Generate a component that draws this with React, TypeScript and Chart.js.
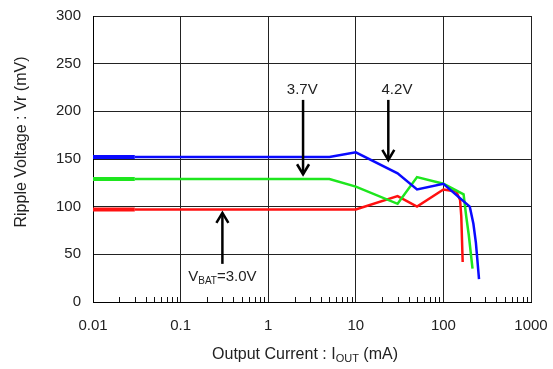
import React, { useEffect, useRef } from "react";
import { Chart, registerables } from "chart.js";

Chart.register(...registerables);

// Output current (mA) and ripple voltage (mV) for each battery voltage
const blueCurrent = [0.01, 0.03, 5, 10, 30, 50, 100, 200, 220, 235, 255];
const blueRipple = [152, 152, 152, 157, 135, 118, 124, 100, 82, 62, 24];

const greenCurrent = [0.01, 0.03, 5, 10, 30, 50, 100, 170, 182, 195, 215];
const greenRipple = [129, 129, 129, 121, 103, 131, 124, 113, 90, 70, 35];

const redCurrent = [0.01, 0.03, 10, 30, 50, 100, 140, 155, 160, 166];
const redRipple = [97, 97, 97, 111, 100, 118, 116, 107, 90, 42];

const xTickValues = [0.01, 0.1, 1, 10, 100, 1000];
const yTickValues = [0, 50, 100, 150, 200, 250, 300];

const FONT = "'Liberation Sans', Arial, sans-serif";
const TEXT = "#222";

const arrows = [
  { label: "3.7V", x: 2.5, from: 212, to: 134, labelX: 2.45, labelY: 223 },
  { label: "4.2V", x: 23.5, from: 212, to: 149, labelX: 29.5, labelY: 223 },
  { label: "", x: 0.3, from: 40, to: 93.5, labelX: 0.3, labelY: 26 },
];

function toPoints(xs: number[], ys: number[]) {
  return xs.map((x, i) => ({ x, y: ys[i] }));
}

const overlayPlugin = {
  id: "overlay",
  afterDraw(chart: any) {
    const ctx = chart.ctx as CanvasRenderingContext2D;
    const xs = chart.scales.x;
    const ys = chart.scales.y;
    const area = chart.chartArea;
    ctx.save();
    // minor ticks
    ctx.strokeStyle = "#111";
    ctx.lineWidth = 1;
    for (let d = 0.01; d < 1000; d *= 10) {
      for (let k = 2; k <= 9; k++) {
        const px = Math.round(xs.getPixelForValue(k * d)) + 0.5;
        ctx.beginPath();
        ctx.moveTo(px, area.bottom);
        ctx.lineTo(px, area.bottom - 5);
        ctx.stroke();
      }
    }
    // arrows
    ctx.strokeStyle = "#000";
    ctx.lineWidth = 2.5;
    ctx.lineCap = "butt";
    for (const a of arrows) {
      const px = xs.getPixelForValue(a.x);
      const y0 = ys.getPixelForValue(a.from);
      const y1 = ys.getPixelForValue(a.to);
      const dir = y1 > y0 ? 1 : -1;
      ctx.beginPath();
      ctx.moveTo(px, y0);
      ctx.lineTo(px, y1);
      ctx.stroke();
      ctx.beginPath();
      ctx.moveTo(px - 6, y1 - dir * 10);
      ctx.lineTo(px, y1);
      ctx.lineTo(px + 6, y1 - dir * 10);
      ctx.stroke();
      if (a.label) {
        ctx.fillStyle = TEXT;
        ctx.font = `15px ${FONT}`;
        ctx.textAlign = "center";
        ctx.textBaseline = "middle";
        ctx.fillText(a.label, xs.getPixelForValue(a.labelX), ys.getPixelForValue(a.labelY));
      }
    }
    // V_BAT label with subscript
    {
      const cx = xs.getPixelForValue(0.3);
      const cy = ys.getPixelForValue(26);
      const big = `15px ${FONT}`;
      const small = `10px ${FONT}`;
      ctx.font = big;
      const wV = ctx.measureText("V").width;
      const wRest = ctx.measureText("=3.0V").width;
      ctx.font = small;
      const wSub = ctx.measureText("BAT").width;
      let x = cx - (wV + wSub + wRest) / 2;
      ctx.fillStyle = TEXT;
      ctx.textAlign = "left";
      ctx.textBaseline = "middle";
      ctx.font = big;
      ctx.fillText("V", x, cy);
      x += wV;
      ctx.font = small;
      ctx.fillText("BAT", x, cy + 4);
      x += wSub;
      ctx.font = big;
      ctx.fillText("=3.0V", x, cy);
    }
    // x axis title
    {
      const cy = 355;
      const parts = [
        { t: "Output Current : I", f: `16px ${FONT}`, dy: 0 },
        { t: "OUT", f: `11px ${FONT}`, dy: 4 },
        { t: " (mA)", f: `16px ${FONT}`, dy: 0 },
      ];
      let total = 0;
      for (const p of parts) {
        ctx.font = p.f;
        total += ctx.measureText(p.t).width;
      }
      let x = 305 - total / 2;
      ctx.fillStyle = TEXT;
      ctx.textAlign = "left";
      ctx.textBaseline = "middle";
      for (const p of parts) {
        ctx.font = p.f;
        ctx.fillText(p.t, x, cy + p.dy);
        x += ctx.measureText(p.t).width;
      }
    }
    // y axis title
    {
      ctx.translate(22, 142);
      ctx.rotate(-Math.PI / 2);
      ctx.font = `16px ${FONT}`;
      ctx.fillStyle = TEXT;
      ctx.textAlign = "center";
      ctx.textBaseline = "middle";
      ctx.fillText("Ripple Voltage : Vr (mV)", 0, 0);
    }
    ctx.restore();
  },
};

export default function App() {
  const ref = useRef<HTMLCanvasElement | null>(null);

  useEffect(() => {
    document.body.style.margin = "0";
    const canvas = ref.current;
    if (!canvas) return;
    const thick = (ctx: any) => (ctx.p0DataIndex === 0 ? 4 : 2.5);
    const chart = new Chart(canvas, {
      type: "line",
      data: {
        datasets: [
          {
            label: "4.2V",
            data: toPoints(blueCurrent, blueRipple),
            borderColor: "#0a0aff",
            borderWidth: 2.5,
            pointRadius: 0,
            segment: { borderWidth: thick },
          },
          {
            label: "3.7V",
            data: toPoints(greenCurrent, greenRipple),
            borderColor: "#1ee61e",
            borderWidth: 2.5,
            pointRadius: 0,
            segment: { borderWidth: thick },
          },
          {
            label: "3.0V",
            data: toPoints(redCurrent, redRipple),
            borderColor: "#ff1010",
            borderWidth: 2.5,
            pointRadius: 0,
            segment: { borderWidth: thick },
          },
        ],
      },
      options: {
        responsive: false,
        animation: false,
        events: [],
        layout: { padding: { top: 16, right: 22, left: 0, bottom: 0 } },
        plugins: { legend: { display: false }, tooltip: { enabled: false } },
        scales: {
          x: {
            type: "logarithmic",
            min: 0.01,
            max: 1000,
            afterBuildTicks: (scale: any) => {
              scale.ticks = xTickValues.map((v) => ({ value: v, major: true }));
            },
            afterFit: (scale: any) => {
              scale.height = 67;
              scale.paddingLeft = 0;
              scale.paddingRight = 0;
            },
            ticks: {
              autoSkip: false,
              maxRotation: 0,
              padding: 15,
              color: TEXT,
              font: { family: FONT, size: 15 },
              callback: (v: any) => String(Number(v)),
            },
            grid: { color: "#222", lineWidth: 1, drawTicks: false },
            border: { color: "#000", width: 1 },
          },
          y: {
            type: "linear",
            min: 0,
            max: 300,
            afterBuildTicks: (scale: any) => {
              scale.ticks = yTickValues.map((v) => ({ value: v }));
            },
            afterFit: (scale: any) => {
              scale.width = 93;
              scale.paddingTop = 0;
              scale.paddingBottom = 0;
            },
            ticks: {
              padding: 12,
              color: TEXT,
              font: { family: FONT, size: 15 },
            },
            grid: { color: "#222", lineWidth: 1, drawTicks: false },
            border: { color: "#000", width: 1 },
          },
        },
      },
      plugins: [overlayPlugin],
    } as any);
    return () => chart.destroy();
  }, []);

  return (
    <div style={{ position: "absolute", left: 0, top: 0, width: 553, height: 369, background: "#fff" }}>
      <canvas ref={ref} width={553} height={369} style={{ display: "block" }} />
    </div>
  );
}
